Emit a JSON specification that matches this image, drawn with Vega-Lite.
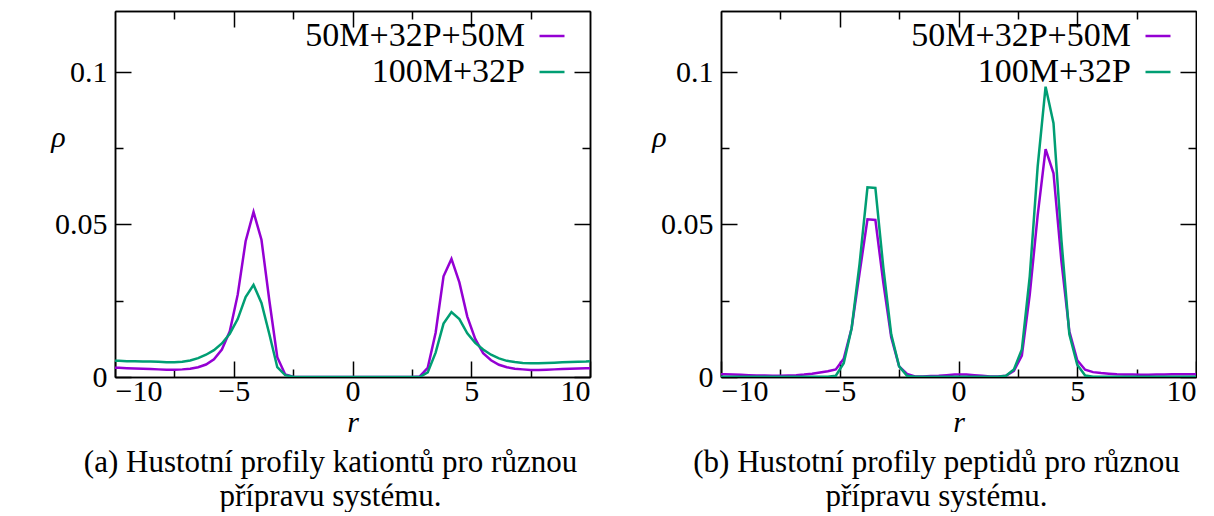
{
"$schema": "https://vega.github.io/schema/vega-lite/v6.json",
"background": "white",
"padding": {"left": 50, "top": 10, "right": 0, "bottom": 0},
"spacing": 60,
"datasets": {
"cat": [
{"r":-10,"rho":0.0030,"s":"50M+32P+50M"},{"r":-9.833,"rho":0.0030,"s":"50M+32P+50M"},{"r":-9.5,"rho":0.0029,"s":"50M+32P+50M"},{"r":-9.167,"rho":0.0028,"s":"50M+32P+50M"},{"r":-8.833,"rho":0.0027,"s":"50M+32P+50M"},{"r":-8.5,"rho":0.0026,"s":"50M+32P+50M"},{"r":-8.167,"rho":0.0025,"s":"50M+32P+50M"},{"r":-7.833,"rho":0.0024,"s":"50M+32P+50M"},{"r":-7.5,"rho":0.0024,"s":"50M+32P+50M"},{"r":-7.167,"rho":0.0025,"s":"50M+32P+50M"},{"r":-6.833,"rho":0.0027,"s":"50M+32P+50M"},{"r":-6.5,"rho":0.0032,"s":"50M+32P+50M"},{"r":-6.167,"rho":0.0041,"s":"50M+32P+50M"},{"r":-5.833,"rho":0.0058,"s":"50M+32P+50M"},{"r":-5.5,"rho":0.0090,"s":"50M+32P+50M"},{"r":-5.167,"rho":0.0150,"s":"50M+32P+50M"},{"r":-4.833,"rho":0.0270,"s":"50M+32P+50M"},{"r":-4.5,"rho":0.0445,"s":"50M+32P+50M"},{"r":-4.167,"rho":0.0541,"s":"50M+32P+50M"},{"r":-3.833,"rho":0.0450,"s":"50M+32P+50M"},{"r":-3.5,"rho":0.0250,"s":"50M+32P+50M"},{"r":-3.167,"rho":0.0065,"s":"50M+32P+50M"},{"r":-2.833,"rho":0.0008,"s":"50M+32P+50M"},{"r":-2.5,"rho":0.0001,"s":"50M+32P+50M"},{"r":-2.167,"rho":0,"s":"50M+32P+50M"},{"r":-1.833,"rho":0,"s":"50M+32P+50M"},{"r":-1.5,"rho":0,"s":"50M+32P+50M"},{"r":-1.167,"rho":0,"s":"50M+32P+50M"},{"r":-0.833,"rho":0,"s":"50M+32P+50M"},{"r":-0.5,"rho":0,"s":"50M+32P+50M"},{"r":-0.167,"rho":0,"s":"50M+32P+50M"},{"r":0.167,"rho":0,"s":"50M+32P+50M"},{"r":0.5,"rho":0,"s":"50M+32P+50M"},{"r":0.833,"rho":0,"s":"50M+32P+50M"},{"r":1.167,"rho":0,"s":"50M+32P+50M"},{"r":1.5,"rho":0,"s":"50M+32P+50M"},{"r":1.833,"rho":0,"s":"50M+32P+50M"},{"r":2.167,"rho":0,"s":"50M+32P+50M"},{"r":2.5,"rho":0,"s":"50M+32P+50M"},{"r":2.833,"rho":0.0002,"s":"50M+32P+50M"},{"r":3.167,"rho":0.0030,"s":"50M+32P+50M"},{"r":3.5,"rho":0.0145,"s":"50M+32P+50M"},{"r":3.833,"rho":0.0330,"s":"50M+32P+50M"},{"r":4.167,"rho":0.0387,"s":"50M+32P+50M"},{"r":4.5,"rho":0.0310,"s":"50M+32P+50M"},{"r":4.833,"rho":0.0198,"s":"50M+32P+50M"},{"r":5.167,"rho":0.0125,"s":"50M+32P+50M"},{"r":5.5,"rho":0.0078,"s":"50M+32P+50M"},{"r":5.833,"rho":0.0055,"s":"50M+32P+50M"},{"r":6.167,"rho":0.0040,"s":"50M+32P+50M"},{"r":6.5,"rho":0.0032,"s":"50M+32P+50M"},{"r":6.833,"rho":0.0027,"s":"50M+32P+50M"},{"r":7.167,"rho":0.0025,"s":"50M+32P+50M"},{"r":7.5,"rho":0.0023,"s":"50M+32P+50M"},{"r":7.833,"rho":0.0023,"s":"50M+32P+50M"},{"r":8.167,"rho":0.0024,"s":"50M+32P+50M"},{"r":8.5,"rho":0.0025,"s":"50M+32P+50M"},{"r":8.833,"rho":0.0026,"s":"50M+32P+50M"},{"r":9.167,"rho":0.0027,"s":"50M+32P+50M"},{"r":9.5,"rho":0.0028,"s":"50M+32P+50M"},{"r":9.833,"rho":0.0029,"s":"50M+32P+50M"},{"r":10,"rho":0.0029,"s":"50M+32P+50M"},
{"r":-10,"rho":0.0053,"s":"100M+32P"},{"r":-9.833,"rho":0.0053,"s":"100M+32P"},{"r":-9.5,"rho":0.0052,"s":"100M+32P"},{"r":-9.167,"rho":0.0052,"s":"100M+32P"},{"r":-8.833,"rho":0.0051,"s":"100M+32P"},{"r":-8.5,"rho":0.0051,"s":"100M+32P"},{"r":-8.167,"rho":0.0050,"s":"100M+32P"},{"r":-7.833,"rho":0.0048,"s":"100M+32P"},{"r":-7.5,"rho":0.0048,"s":"100M+32P"},{"r":-7.167,"rho":0.0050,"s":"100M+32P"},{"r":-6.833,"rho":0.0054,"s":"100M+32P"},{"r":-6.5,"rho":0.0062,"s":"100M+32P"},{"r":-6.167,"rho":0.0073,"s":"100M+32P"},{"r":-5.833,"rho":0.0088,"s":"100M+32P"},{"r":-5.5,"rho":0.0110,"s":"100M+32P"},{"r":-5.167,"rho":0.0142,"s":"100M+32P"},{"r":-4.833,"rho":0.0190,"s":"100M+32P"},{"r":-4.5,"rho":0.0262,"s":"100M+32P"},{"r":-4.167,"rho":0.0302,"s":"100M+32P"},{"r":-3.833,"rho":0.0243,"s":"100M+32P"},{"r":-3.5,"rho":0.0140,"s":"100M+32P"},{"r":-3.167,"rho":0.0032,"s":"100M+32P"},{"r":-2.833,"rho":0.0006,"s":"100M+32P"},{"r":-2.5,"rho":0.0001,"s":"100M+32P"},{"r":-2.167,"rho":0,"s":"100M+32P"},{"r":-1.833,"rho":0,"s":"100M+32P"},{"r":-1.5,"rho":0,"s":"100M+32P"},{"r":-1.167,"rho":0,"s":"100M+32P"},{"r":-0.833,"rho":0,"s":"100M+32P"},{"r":-0.5,"rho":0,"s":"100M+32P"},{"r":-0.167,"rho":0,"s":"100M+32P"},{"r":0.167,"rho":0,"s":"100M+32P"},{"r":0.5,"rho":0,"s":"100M+32P"},{"r":0.833,"rho":0,"s":"100M+32P"},{"r":1.167,"rho":0,"s":"100M+32P"},{"r":1.5,"rho":0,"s":"100M+32P"},{"r":1.833,"rho":0,"s":"100M+32P"},{"r":2.167,"rho":0,"s":"100M+32P"},{"r":2.5,"rho":0,"s":"100M+32P"},{"r":2.833,"rho":0,"s":"100M+32P"},{"r":3.167,"rho":0.0015,"s":"100M+32P"},{"r":3.5,"rho":0.0080,"s":"100M+32P"},{"r":3.833,"rho":0.0175,"s":"100M+32P"},{"r":4.167,"rho":0.0213,"s":"100M+32P"},{"r":4.5,"rho":0.0190,"s":"100M+32P"},{"r":4.833,"rho":0.0143,"s":"100M+32P"},{"r":5.167,"rho":0.0112,"s":"100M+32P"},{"r":5.5,"rho":0.0090,"s":"100M+32P"},{"r":5.833,"rho":0.0073,"s":"100M+32P"},{"r":6.167,"rho":0.0061,"s":"100M+32P"},{"r":6.5,"rho":0.0053,"s":"100M+32P"},{"r":6.833,"rho":0.0049,"s":"100M+32P"},{"r":7.167,"rho":0.0046,"s":"100M+32P"},{"r":7.5,"rho":0.0045,"s":"100M+32P"},{"r":7.833,"rho":0.0045,"s":"100M+32P"},{"r":8.167,"rho":0.0046,"s":"100M+32P"},{"r":8.5,"rho":0.0047,"s":"100M+32P"},{"r":8.833,"rho":0.0048,"s":"100M+32P"},{"r":9.167,"rho":0.0049,"s":"100M+32P"},{"r":9.5,"rho":0.0050,"s":"100M+32P"},{"r":9.833,"rho":0.0051,"s":"100M+32P"},{"r":10,"rho":0.0052,"s":"100M+32P"}
],
"pep": [
{"r":-10,"rho":0.0009,"s":"50M+32P+50M"},{"r":-9.833,"rho":0.0009,"s":"50M+32P+50M"},{"r":-9.5,"rho":0.0008,"s":"50M+32P+50M"},{"r":-9.167,"rho":0.0007,"s":"50M+32P+50M"},{"r":-8.833,"rho":0.0006,"s":"50M+32P+50M"},{"r":-8.5,"rho":0.0005,"s":"50M+32P+50M"},{"r":-8.167,"rho":0.0005,"s":"50M+32P+50M"},{"r":-7.833,"rho":0.0004,"s":"50M+32P+50M"},{"r":-7.5,"rho":0.0004,"s":"50M+32P+50M"},{"r":-7.167,"rho":0.0005,"s":"50M+32P+50M"},{"r":-6.833,"rho":0.0006,"s":"50M+32P+50M"},{"r":-6.5,"rho":0.0008,"s":"50M+32P+50M"},{"r":-6.167,"rho":0.0011,"s":"50M+32P+50M"},{"r":-5.833,"rho":0.0015,"s":"50M+32P+50M"},{"r":-5.5,"rho":0.0019,"s":"50M+32P+50M"},{"r":-5.167,"rho":0.0025,"s":"50M+32P+50M"},{"r":-4.833,"rho":0.0060,"s":"50M+32P+50M"},{"r":-4.5,"rho":0.0160,"s":"50M+32P+50M"},{"r":-4.167,"rho":0.0340,"s":"50M+32P+50M"},{"r":-3.833,"rho":0.0517,"s":"50M+32P+50M"},{"r":-3.5,"rho":0.0515,"s":"50M+32P+50M"},{"r":-3.167,"rho":0.0310,"s":"50M+32P+50M"},{"r":-2.833,"rho":0.0130,"s":"50M+32P+50M"},{"r":-2.5,"rho":0.0035,"s":"50M+32P+50M"},{"r":-2.167,"rho":0.0010,"s":"50M+32P+50M"},{"r":-1.833,"rho":0.0002,"s":"50M+32P+50M"},{"r":-1.5,"rho":0.0002,"s":"50M+32P+50M"},{"r":-1.167,"rho":0.0003,"s":"50M+32P+50M"},{"r":-0.833,"rho":0.0004,"s":"50M+32P+50M"},{"r":-0.5,"rho":0.0006,"s":"50M+32P+50M"},{"r":-0.167,"rho":0.0008,"s":"50M+32P+50M"},{"r":0.333,"rho":0.0008,"s":"50M+32P+50M"},{"r":0.667,"rho":0.0006,"s":"50M+32P+50M"},{"r":1.0,"rho":0.0004,"s":"50M+32P+50M"},{"r":1.333,"rho":0.0002,"s":"50M+32P+50M"},{"r":1.667,"rho":0.0002,"s":"50M+32P+50M"},{"r":2.0,"rho":0.0004,"s":"50M+32P+50M"},{"r":2.333,"rho":0.0020,"s":"50M+32P+50M"},{"r":2.667,"rho":0.0070,"s":"50M+32P+50M"},{"r":3.0,"rho":0.0270,"s":"50M+32P+50M"},{"r":3.333,"rho":0.0530,"s":"50M+32P+50M"},{"r":3.667,"rho":0.0747,"s":"50M+32P+50M"},{"r":4.0,"rho":0.0668,"s":"50M+32P+50M"},{"r":4.333,"rho":0.0380,"s":"50M+32P+50M"},{"r":4.667,"rho":0.0150,"s":"50M+32P+50M"},{"r":5.0,"rho":0.0055,"s":"50M+32P+50M"},{"r":5.333,"rho":0.0024,"s":"50M+32P+50M"},{"r":5.667,"rho":0.0016,"s":"50M+32P+50M"},{"r":6.0,"rho":0.0013,"s":"50M+32P+50M"},{"r":6.333,"rho":0.0011,"s":"50M+32P+50M"},{"r":6.667,"rho":0.0009,"s":"50M+32P+50M"},{"r":7.0,"rho":0.0008,"s":"50M+32P+50M"},{"r":7.333,"rho":0.0008,"s":"50M+32P+50M"},{"r":7.667,"rho":0.0007,"s":"50M+32P+50M"},{"r":8.0,"rho":0.0007,"s":"50M+32P+50M"},{"r":8.333,"rho":0.0008,"s":"50M+32P+50M"},{"r":8.667,"rho":0.0008,"s":"50M+32P+50M"},{"r":9.0,"rho":0.0009,"s":"50M+32P+50M"},{"r":9.333,"rho":0.0009,"s":"50M+32P+50M"},{"r":9.667,"rho":0.0009,"s":"50M+32P+50M"},{"r":10,"rho":0.0009,"s":"50M+32P+50M"},
{"r":-10,"rho":0.0001,"s":"100M+32P"},{"r":-9.833,"rho":0.0001,"s":"100M+32P"},{"r":-9.5,"rho":0.0001,"s":"100M+32P"},{"r":-9.167,"rho":0.0001,"s":"100M+32P"},{"r":-8.833,"rho":0.0001,"s":"100M+32P"},{"r":-8.5,"rho":0.0001,"s":"100M+32P"},{"r":-8.167,"rho":0.0001,"s":"100M+32P"},{"r":-7.833,"rho":0.0001,"s":"100M+32P"},{"r":-7.5,"rho":0.0001,"s":"100M+32P"},{"r":-7.167,"rho":0.0001,"s":"100M+32P"},{"r":-6.833,"rho":0.0001,"s":"100M+32P"},{"r":-6.5,"rho":0.0001,"s":"100M+32P"},{"r":-6.167,"rho":0.0001,"s":"100M+32P"},{"r":-5.833,"rho":0.0001,"s":"100M+32P"},{"r":-5.5,"rho":0.0001,"s":"100M+32P"},{"r":-5.167,"rho":0.0004,"s":"100M+32P"},{"r":-4.833,"rho":0.0045,"s":"100M+32P"},{"r":-4.5,"rho":0.0160,"s":"100M+32P"},{"r":-4.167,"rho":0.0370,"s":"100M+32P"},{"r":-3.833,"rho":0.0622,"s":"100M+32P"},{"r":-3.5,"rho":0.0620,"s":"100M+32P"},{"r":-3.167,"rho":0.0360,"s":"100M+32P"},{"r":-2.833,"rho":0.0140,"s":"100M+32P"},{"r":-2.5,"rho":0.0035,"s":"100M+32P"},{"r":-2.167,"rho":0.0004,"s":"100M+32P"},{"r":-1.833,"rho":0.0001,"s":"100M+32P"},{"r":-1.5,"rho":0.0001,"s":"100M+32P"},{"r":-1.167,"rho":0.0001,"s":"100M+32P"},{"r":-0.833,"rho":0.0001,"s":"100M+32P"},{"r":-0.5,"rho":0.0001,"s":"100M+32P"},{"r":-0.167,"rho":0.0001,"s":"100M+32P"},{"r":0.333,"rho":0.0001,"s":"100M+32P"},{"r":0.667,"rho":0.0001,"s":"100M+32P"},{"r":1.0,"rho":0.0001,"s":"100M+32P"},{"r":1.333,"rho":0.0001,"s":"100M+32P"},{"r":1.667,"rho":0.0001,"s":"100M+32P"},{"r":2.0,"rho":0.0004,"s":"100M+32P"},{"r":2.333,"rho":0.0025,"s":"100M+32P"},{"r":2.667,"rho":0.0090,"s":"100M+32P"},{"r":3.0,"rho":0.0330,"s":"100M+32P"},{"r":3.333,"rho":0.0690,"s":"100M+32P"},{"r":3.667,"rho":0.0952,"s":"100M+32P"},{"r":4.0,"rho":0.0832,"s":"100M+32P"},{"r":4.333,"rho":0.0450,"s":"100M+32P"},{"r":4.667,"rho":0.0140,"s":"100M+32P"},{"r":5.0,"rho":0.0040,"s":"100M+32P"},{"r":5.333,"rho":0.0005,"s":"100M+32P"},{"r":5.667,"rho":0.0001,"s":"100M+32P"},{"r":6.0,"rho":0.0001,"s":"100M+32P"},{"r":6.333,"rho":0.0001,"s":"100M+32P"},{"r":6.667,"rho":0.0001,"s":"100M+32P"},{"r":7.0,"rho":0.0001,"s":"100M+32P"},{"r":7.333,"rho":0.0001,"s":"100M+32P"},{"r":7.667,"rho":0.0001,"s":"100M+32P"},{"r":8.0,"rho":0.0001,"s":"100M+32P"},{"r":8.333,"rho":0.0001,"s":"100M+32P"},{"r":8.667,"rho":0.0001,"s":"100M+32P"},{"r":9.0,"rho":0.0001,"s":"100M+32P"},{"r":9.333,"rho":0.0001,"s":"100M+32P"},{"r":9.667,"rho":0.0001,"s":"100M+32P"},{"r":10,"rho":0.0001,"s":"100M+32P"}
]
},
"hconcat": [
{
"width": 475, "height": 366,
"data": {"name": "cat"},
"title": {"text": ["(a) Hustotní profily kationtů pro různou", "přípravu systému."], "orient": "bottom", "anchor": "middle", "frame": "group", "dx": -22, "offset": 11},
"layer": [
{"mark": {"type": "line", "strokeWidth": 2.5, "clip": true},
 "encoding": {
  "x": {"field": "r", "type": "quantitative", "scale": {"domain": [-10, 10], "nice": false, "zero": false}, "axis": {"orient": "bottom", "values": [-10, -5, 0, 5, 10], "format": "d", "tickSize": -16, "labelPadding": 15, "title": "r", "titleY": 45, "titleBaseline": "middle"}},
  "y": {"field": "rho", "type": "quantitative", "scale": {"domain": [0, 0.12], "nice": false}, "axis": {"orient": "left", "values": [0, 0.05, 0.1], "format": "~g", "tickSize": -16, "labelPadding": 24, "title": "ρ", "titleAngle": 0, "titleX": -57, "titleY": 126, "titleAlign": "center", "titleBaseline": "middle"}},
  "color": {"field": "s", "type": "nominal", "sort": null, "scale": {"domain": ["50M+32P+50M", "100M+32P"], "range": ["#9400D3", "#009E73"]}, "legend": {"orient": "none", "legendX": 420, "legendY": 8, "title": null, "labelAlign": "right", "labelOffset": -44, "symbolType": "stroke", "symbolSize": 625, "symbolStrokeWidth": 2.5, "rowPadding": 2, "padding": 0, "labelLimit": 500, "labelFontSize": 34}}
 }},
{"mark": {"type": "line", "opacity": 0},
 "encoding": {
  "x": {"field": "r", "type": "quantitative", "scale": {"domain": [-10, 10], "nice": false, "zero": false}, "axis": {"orient": "bottom", "values": [-7.5, -2.5, 2.5, 7.5], "labels": false, "tickSize": -8, "title": null}},
  "y": {"field": "rho", "type": "quantitative", "scale": {"domain": [0, 0.12], "nice": false}, "axis": {"orient": "left", "values": [0.025, 0.075], "labels": false, "tickSize": -8, "title": null}},
  "detail": {"field": "s"}
 }},
{"mark": {"type": "line", "opacity": 0},
 "encoding": {
  "x": {"field": "r", "type": "quantitative", "scale": {"domain": [-10, 10], "nice": false, "zero": false}, "axis": {"orient": "top", "values": [-5, 0, 5], "labels": false, "tickSize": -16, "title": null}},
  "y": {"field": "rho", "type": "quantitative", "scale": {"domain": [0, 0.12], "nice": false}, "axis": {"orient": "right", "values": [0, 0.05, 0.1], "labels": false, "tickSize": -16, "title": null}},
  "detail": {"field": "s"}
 }},
{"mark": {"type": "line", "opacity": 0},
 "encoding": {
  "x": {"field": "r", "type": "quantitative", "scale": {"domain": [-10, 10], "nice": false, "zero": false}, "axis": {"orient": "top", "values": [-7.5, -2.5, 2.5, 7.5], "labels": false, "tickSize": -8, "title": null}},
  "y": {"field": "rho", "type": "quantitative", "scale": {"domain": [0, 0.12], "nice": false}, "axis": {"orient": "right", "values": [0.025, 0.075], "labels": false, "tickSize": -8, "title": null}},
  "detail": {"field": "s"}
 }}
],
"resolve": {"axis": {"x": "independent", "y": "independent"}}
},
{
"width": 475, "height": 366,
"data": {"name": "pep"},
"title": {"text": ["(b) Hustotní profily peptidů pro různou", "přípravu systému."], "orient": "bottom", "anchor": "middle", "frame": "group", "dx": -22, "offset": 11},
"layer": [
{"mark": {"type": "line", "strokeWidth": 2.5, "clip": true},
 "encoding": {
  "x": {"field": "r", "type": "quantitative", "scale": {"domain": [-10, 10], "nice": false, "zero": false}, "axis": {"orient": "bottom", "values": [-10, -5, 0, 5, 10], "format": "d", "tickSize": -16, "labelPadding": 15, "title": "r", "titleY": 45, "titleBaseline": "middle"}},
  "y": {"field": "rho", "type": "quantitative", "scale": {"domain": [0, 0.12], "nice": false}, "axis": {"orient": "left", "values": [0, 0.05, 0.1], "format": "~g", "tickSize": -16, "labelPadding": 24, "title": "ρ", "titleAngle": 0, "titleX": -62, "titleY": 126, "titleAlign": "center", "titleBaseline": "middle"}},
  "color": {"field": "s", "type": "nominal", "sort": null, "scale": {"domain": ["50M+32P+50M", "100M+32P"], "range": ["#9400D3", "#009E73"]}, "legend": {"orient": "none", "legendX": 420, "legendY": 8, "title": null, "labelAlign": "right", "labelOffset": -44, "symbolType": "stroke", "symbolSize": 625, "symbolStrokeWidth": 2.5, "rowPadding": 2, "padding": 0, "labelLimit": 500, "labelFontSize": 34}}
 }},
{"mark": {"type": "line", "opacity": 0},
 "encoding": {
  "x": {"field": "r", "type": "quantitative", "scale": {"domain": [-10, 10], "nice": false, "zero": false}, "axis": {"orient": "bottom", "values": [-7.5, -2.5, 2.5, 7.5], "labels": false, "tickSize": -8, "title": null}},
  "y": {"field": "rho", "type": "quantitative", "scale": {"domain": [0, 0.12], "nice": false}, "axis": {"orient": "left", "values": [0.025, 0.075], "labels": false, "tickSize": -8, "title": null}},
  "detail": {"field": "s"}
 }},
{"mark": {"type": "line", "opacity": 0},
 "encoding": {
  "x": {"field": "r", "type": "quantitative", "scale": {"domain": [-10, 10], "nice": false, "zero": false}, "axis": {"orient": "top", "values": [-5, 0, 5], "labels": false, "tickSize": -16, "title": null}},
  "y": {"field": "rho", "type": "quantitative", "scale": {"domain": [0, 0.12], "nice": false}, "axis": {"orient": "right", "values": [0, 0.05, 0.1], "labels": false, "tickSize": -16, "title": null}},
  "detail": {"field": "s"}
 }},
{"mark": {"type": "line", "opacity": 0},
 "encoding": {
  "x": {"field": "r", "type": "quantitative", "scale": {"domain": [-10, 10], "nice": false, "zero": false}, "axis": {"orient": "top", "values": [-7.5, -2.5, 2.5, 7.5], "labels": false, "tickSize": -8, "title": null}},
  "y": {"field": "rho", "type": "quantitative", "scale": {"domain": [0, 0.12], "nice": false}, "axis": {"orient": "right", "values": [0.025, 0.075], "labels": false, "tickSize": -8, "title": null}},
  "detail": {"field": "s"}
 }}
],
"resolve": {"axis": {"x": "independent", "y": "independent"}}
}
],
"resolve": {"scale": {"color": "independent"}, "legend": {"color": "independent"}},
"config": {
"font": "Times New Roman",
"view": {"stroke": null},
"axis": {"grid": false, "domainColor": "#000", "domainWidth": 1.5, "tickColor": "#000", "tickWidth": 1.5, "labelFont": "Times New Roman", "labelFontSize": 30, "labelColor": "#000", "titleFont": "Times New Roman", "titleFontSize": 30, "titleFontWeight": "normal", "titleFontStyle": "italic", "titleColor": "#000"},
"legend": {"labelFont": "Times New Roman", "labelFontSize": 34, "labelColor": "#000"},
"title": {"font": "Times New Roman", "fontSize": 31, "fontWeight": "normal", "color": "#000", "lineHeight": 34}
}
}
